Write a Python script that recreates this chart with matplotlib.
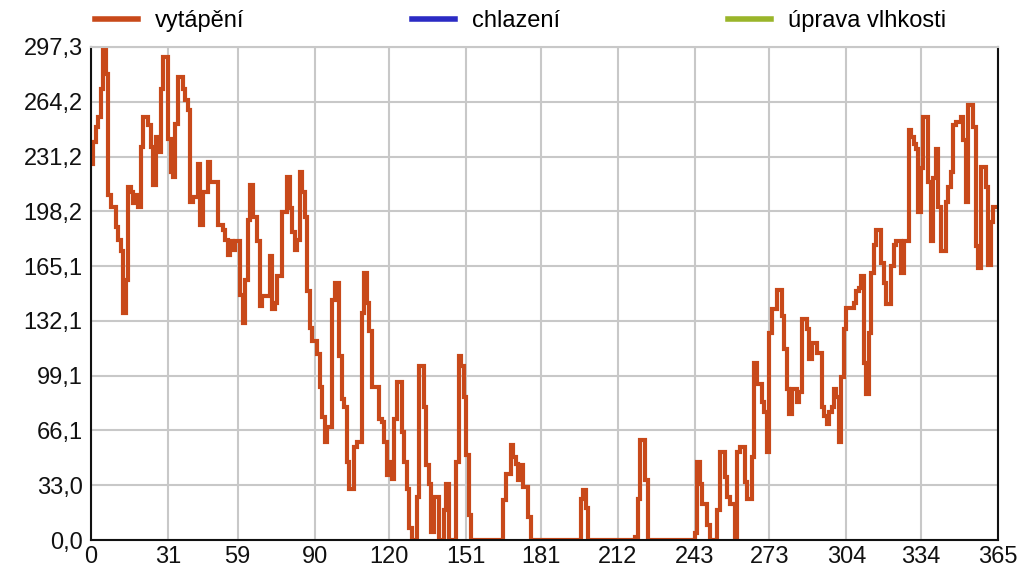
import matplotlib.pyplot as plt
from matplotlib.lines import Line2D

# daily heating load (days 0..365)
heat_jan_mar = [
    227, 240, 249, 255, 272, 297, 281, 208, 201, 201, 189, 181, 174, 137, 157,
    213, 210, 203, 208, 201, 237, 255, 255, 250, 237, 214, 243, 234, 272, 291,
    291, 242, 222, 219, 251, 279, 279, 272, 265, 259, 204, 207, 207, 227, 190,
    210, 210, 228, 216, 216, 216, 190, 190, 187, 181, 172, 180, 175, 180, 180,
    148, 131, 157, 193, 214, 195, 195, 180, 141, 147, 147, 147, 171, 139, 143,
    159, 159, 198, 198, 219, 200, 186, 175, 181, 222, 210, 195, 150, 128, 120,
]
heat_apr_jun = [
    120, 112, 92, 74, 59, 68, 68, 145, 155, 155, 111, 85, 80, 47, 31,
    31, 56, 59, 59, 137, 161, 143, 126, 92, 92, 92, 73, 71, 59, 39,
    47, 37, 73, 95, 95, 65, 47, 31, 7, 0, 0, 26, 105, 105, 80,
    45, 34, 5, 26, 26, 0, 0, 18, 34, 0, 0, 0, 47, 111, 105,
    86, 51, 15, 0, 0, 0, 0, 0, 0, 0, 0, 0, 0, 0, 0,
    0, 24, 40, 40, 57, 50, 46, 36, 45, 32, 32, 14, 0, 0, 0,
    0,
]
heat_jul_sep = [
    0, 0, 0, 0, 0, 0, 0, 0, 0, 0, 0, 0, 0, 0, 0,
    0, 25, 30, 19, 0, 0, 0, 0, 0, 0, 0, 0, 0, 0, 0,
    0, 0, 0, 0, 0, 0, 0, 0, 2, 25, 60, 60, 36, 0, 0,
    0, 0, 0, 0, 0, 0, 0, 0, 0, 0, 0, 0, 0, 0, 0,
    0, 0, 4, 47, 34, 22, 22, 9, 0, 0, 0, 18, 53, 53, 38,
    26, 22, 22, 2, 53, 56, 56, 35, 25, 25, 50, 107, 94, 94, 83,
    77, 53,
]
heat_oct_dec = [
    125, 139, 139, 151, 151, 135, 115, 91, 76, 91, 91, 83, 89, 133, 133,
    127, 109, 119, 119, 113, 113, 80, 75, 70, 77, 80, 91, 86, 59, 98,
    127, 140, 140, 140, 143, 150, 152, 159, 107, 88, 125, 161, 178, 187, 187,
    167, 155, 142, 142, 165, 178, 180, 180, 161, 180, 180, 247, 243, 239, 236,
    198, 224, 255, 255, 216, 180, 218, 236, 201, 174, 174, 204, 213, 222, 250,
    252, 252, 255, 241, 204, 262, 262, 249, 177, 164, 225, 225, 213, 166, 192,
    201, 201, 201, 201,
]
heating = heat_jan_mar + heat_apr_jun + heat_jul_sep + heat_oct_dec
days = list(range(len(heating)))

x_ticks = [0, 31, 59, 90, 120, 151, 181, 212, 243, 273, 304, 334, 365]
y_max = 297.25
y_ticks = [y_max * i / 9 for i in range(10)]
y_labels = ["0,0", "33,0", "66,1", "99,1", "132,1", "165,1", "198,2", "231,2", "264,2", "297,3"]
series_names = ["vytápění", "chlazení", "úprava vlhkosti"]
series_colors = ["#c8491a", "#2b2bc4", "#9ab52a"]

plt.rcParams["font.family"] = ["Liberation Sans", "DejaVu Sans"]

fig = plt.figure(figsize=(10.2, 5.7), dpi=100)
ax = fig.add_axes((91 / 1020, 30 / 570, 907 / 1020, 493 / 570))

ax.plot(days, heating, drawstyle="steps-post", color=series_colors[0],
        linewidth=3.0, solid_joinstyle="miter")

ax.set_xlim(0, 365)
ax.set_ylim(0, y_max)
ax.set_xticks(x_ticks)
ax.set_xticklabels([str(t) for t in x_ticks])
ax.set_yticks(y_ticks)
ax.set_yticklabels(y_labels)
ax.tick_params(length=0, labelsize=17, colors="#111111")
ax.tick_params(axis="x", pad=4)
ax.tick_params(axis="y", pad=6)
ax.grid(True, color="#c8c8c8", linewidth=1.5)
ax.set_axisbelow(True)
for side in ("left", "bottom", "right"):
    ax.spines[side].set_color("#111111")
    ax.spines[side].set_linewidth(1.5)
ax.spines["top"].set_color("#c8c8c8")
ax.spines["top"].set_linewidth(1.5)

handles = [Line2D([], [], color=c, linewidth=4) for c in series_colors]
fig.legend(handles, series_names, loc="center left", bbox_to_anchor=(95 / 1020, 1 - 21 / 570),
           ncol=3, frameon=False, fontsize=17, handlelength=1.8, handletextpad=0.75,
           columnspacing=7.1, borderaxespad=0, borderpad=0)

fig.savefig("out.png", dpi=100)
